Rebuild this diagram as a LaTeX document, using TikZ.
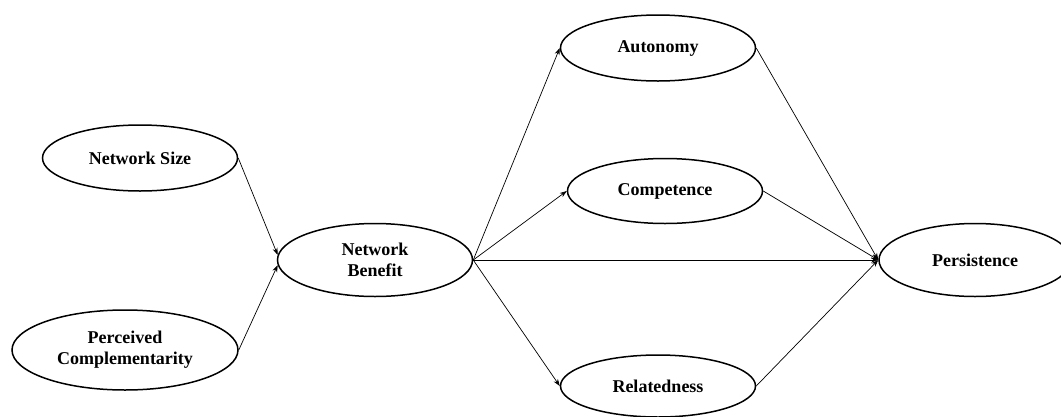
\documentclass[tikz,border=0pt]{standalone}
\usepackage{fontspec}
\setmainfont{Liberation Serif}
\usetikzlibrary{shapes.geometric, arrows.meta, positioning}
\tikzstyle{construct} = [ellipse, draw=black, line width=1.5pt, inner sep=0pt,
	minimum width=195pt, minimum height=66pt, align=center,
	font=\bfseries\fontsize{18}{21}\selectfont]
\tikzstyle{arrow} = [-{Stealth[length=7pt, width=5pt]}, line width=0.7pt]

\begin{document}
\begin{tikzpicture}[x=1pt, y=-1pt]
	\useasboundingbox (0,0) rectangle (1061,416);

	% set up nodes
	\node (size) [construct] at (140,158) {Network Size};
	\node (compl) [construct, minimum width=226pt, minimum height=80pt] at (125,350) {Perceived\\Complementarity};
	\node (benefit) [construct, minimum height=73pt] at (375,260) {Network\\Benefit};
	\node (autonomy) [construct] at (658,48) {Autonomy};
	\node (competence) [construct, minimum height=65pt] at (665,191) {Competence};
	\node (relatedness) [construct, minimum height=62pt] at (658,386) {Relatedness};
	\node (persistence) [construct, minimum width=192pt, minimum height=73pt] at (975,260) {Persistence};

	% set up paths between nodes
	\draw [arrow] (size.east) -- (benefit.177);
	\draw [arrow] (compl.east) -- (benefit.183);
	\draw [arrow] (benefit.east) -- (autonomy.west);
	\draw [arrow] (benefit.east) -- (competence.west);
	\draw [arrow] (benefit.east) -- (persistence.west);
	\draw [arrow] (benefit.east) -- (relatedness.west);
	\draw [arrow] (autonomy.east) -- (persistence.west);
	\draw [arrow] (competence.east) -- (persistence.west);
	\draw [arrow] (relatedness.east) -- (persistence.west);

\end{tikzpicture}
\end{document}
